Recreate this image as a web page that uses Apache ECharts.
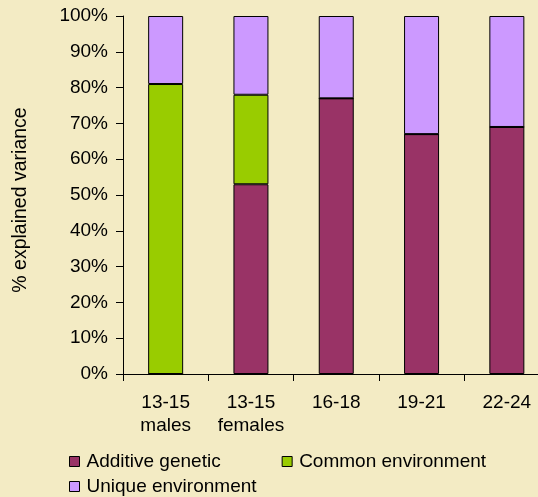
<!DOCTYPE html>
<html>
<head>
<meta charset="utf-8">
<script src="https://cdn.jsdelivr.net/npm/echarts@6/dist/echarts.min.js"></script>
<style>
  html, body { margin: 0; padding: 0; background: #F3EBC4; overflow: hidden; }
  /* the plot area runs a little past the right edge of the window */
  #chart { width: 550px; height: 497px; }
</style>
</head>
<body>
<div id="chart"></div>
<script>
// Age groups on the x-axis
const categories = ['13-15\nmales', '13-15\nfemales', '16-18', '19-21', '22-24'];
// Variance components (%) per group
const additiveGenetic = [0, 53, 77, 67, 69];
const commonEnvironment = [81, 25, 0, 0, 0];
const uniqueEnvironment = [19, 22, 23, 33, 31];
const yTicks = [0, 10, 20, 30, 40, 50, 60, 70, 80, 90, 100];

const FONT = 'Liberation Sans, Arial, sans-serif';
const chart = echarts.init(document.getElementById('chart'));

function barSeries(name, data, color) {
  return {
    name: name,
    type: 'bar',
    stack: 'total',
    data: data,
    barWidth: 35,
    itemStyle: { color: color, borderColor: '#000', borderWidth: 1 },
    emphasis: { disabled: true }
  };
}

const legendCommon = {
  orient: 'horizontal',
  left: 69,
  itemWidth: 10,
  itemHeight: 10,
  itemGap: 61,
  itemStyle: { borderColor: '#000', borderWidth: 1 },
  icon: 'rect',
  textStyle: { fontFamily: FONT, fontSize: 19, color: '#000', padding: [0, 0, 0, 2] },
  selectedMode: false,
  padding: 0
};

chart.setOption({
  backgroundColor: '#F3EBC4',
  animation: false,
  grid: { left: 123, right: 0.5, top: 16, bottom: 123 },
  legend: [
    Object.assign({}, legendCommon, { top: 452, data: ['Additive genetic', 'Common environment'] }),
    Object.assign({}, legendCommon, { top: 477, data: ['Unique environment'] })
  ],
  xAxis: {
    type: 'category',
    data: categories,
    axisLine: { lineStyle: { color: '#000', width: 1 } },
    axisTick: { show: true, length: 7, lineStyle: { color: '#000' } },
    axisLabel: { interval: 0, color: '#000', fontFamily: FONT, fontSize: 19, lineHeight: 23, margin: 17 }
  },
  yAxis: {
    type: 'value',
    min: yTicks[0],
    max: yTicks[yTicks.length - 1],
    interval: 10,
    name: '% explained variance',
    nameLocation: 'middle',
    nameGap: 92,
    nameTextStyle: { color: '#000', fontFamily: FONT, fontSize: 19.5, padding: [0, 10, 0, 0] },
    splitLine: { show: false },
    axisLine: { show: true, lineStyle: { color: '#000', width: 1 } },
    axisTick: { show: true, length: 7, lineStyle: { color: '#000' } },
    axisLabel: { color: '#000', fontFamily: FONT, fontSize: 19, margin: 15, formatter: '{value}%' }
  },
  series: [
    barSeries('Additive genetic', additiveGenetic, '#993366'),
    barSeries('Common environment', commonEnvironment, '#99CC00'),
    barSeries('Unique environment', uniqueEnvironment, '#CC99FF')
  ]
});
</script>
</body>
</html>
